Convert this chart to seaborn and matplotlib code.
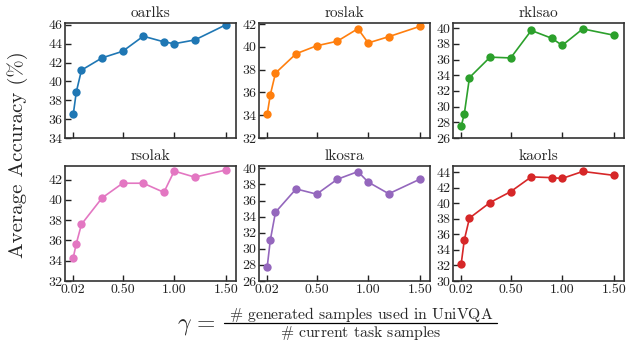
import numpy as np
import pandas as pd
import matplotlib
matplotlib.use("Agg")
import matplotlib.pyplot as plt
from matplotlib.lines import Line2D
import seaborn as sns

gamma = [0.02, 0.05, 0.1, 0.3, 0.5, 0.7, 0.9, 1.0, 1.2, 1.5]
titles = ["oarlks", "roslak", "rklsao", "rsolak", "lkosra", "kaorls"]
acc_oarlks = [36.5, 38.9, 41.2, 42.5, 43.2, 44.8, 44.2, 44.0, 44.4, 46.0]
acc_roslak = [34.1, 35.8, 37.7, 39.4, 40.1, 40.5, 41.6, 40.35, 40.9, 41.8]
acc_rklsao = [27.5, 29.1, 33.7, 36.3, 36.2, 39.7, 38.7, 37.8, 39.9, 39.1]
acc_rsolak = [34.3, 35.7, 37.6, 40.2, 41.65, 41.65, 40.75, 42.85, 42.25, 42.95]
acc_lkosra = [27.8, 31.1, 34.55, 37.45, 36.8, 38.65, 39.6, 38.3, 36.85, 38.65]
acc_kaorls = [32.25, 35.3, 38.1, 40.1, 41.5, 43.4, 43.3, 43.2, 44.1, 43.6]
series = [acc_oarlks, acc_roslak, acc_rklsao, acc_rsolak, acc_lkosra, acc_kaorls]
colors = ["#1f77b4", "#ff7f0e", "#2ca02c", "#e377c2", "#9467bd", "#d62728"]
ylims = [(34, 46.2), (32, 42.1), (26, 40.65), (32, 43.35), (26, 40.3), (30, 44.8)]
xticks = [0.02, 0.50, 1.00, 1.50]
xticklabels = ["0.02", "0.50", "1.00", "1.50"]
numerator = r"$\#$ generated samples used in UniVQA"
denominator = r"$\#$ current task samples"

sns.set_style("ticks")
plt.rcParams["font.family"] = "serif"
plt.rcParams["font.serif"] = ["cmr10", "DejaVu Serif"]
plt.rcParams["mathtext.fontset"] = "cm"
plt.rcParams["axes.formatter.use_mathtext"] = True
plt.rcParams["axes.unicode_minus"] = False

W, H = 626, 343
fig = plt.figure(figsize=(W / 100, H / 100), dpi=100)

lefts = [65, 259, 453]
tops = [23, 166]
aw, ah = 171, 115

for i, (vals, title, col, yl) in enumerate(zip(series, titles, colors, ylims)):
    r, c = divmod(i, 3)
    ax = fig.add_axes([lefts[c] / W, (H - tops[r] - ah) / H, aw / W, ah / H])
    df = pd.DataFrame({"gamma": gamma, "acc": vals})
    sns.lineplot(data=df, x="gamma", y="acc", ax=ax, color=col, marker="o",
                 markersize=6, markeredgewidth=0, linewidth=1.2)
    ax.set_xlim(-0.06, 1.6)
    ax.set_ylim(*yl)
    ax.set_yticks(np.arange(np.ceil(yl[0] / 2) * 2, yl[1] + 0.01, 2))
    ax.yaxis.set_major_formatter(matplotlib.ticker.FuncFormatter(lambda v, p: f"{v:.0f}"))
    ax.set_xticks(xticks)
    if r == 1:
        ax.set_xticklabels(xticklabels)
    else:
        ax.set_xticklabels([])
    ax.tick_params(direction="in", labelsize=10, length=4, width=1, colors="#222222", pad=2)
    for s in ax.spines.values():
        s.set_linewidth(1.2)
        s.set_color("#333333")
    ax.set_xlabel("")
    ax.set_ylabel("")
    ax.set_title(title, fontsize=11, pad=4)

fig.text(18 / W, 1 - 155 / H, "Average Accuracy (%)", rotation=90,
         ha="center", va="center", fontsize=15)
fig.text(216 / W, 1 - 326 / H, r"$\gamma\,=$", ha="right", va="center", fontsize=17)
fig.text(361 / W, 1 - 319 / H, numerator, ha="center", va="baseline", fontsize=11.3)
fig.text(361 / W, 1 - 337 / H, denominator, ha="center", va="baseline", fontsize=11.3)
fig.add_artist(Line2D([224 / W, 497 / W], [1 - 323 / H, 1 - 323 / H],
                      color="black", linewidth=0.9, transform=fig.transFigure))

fig.savefig("out.png", dpi=100)
